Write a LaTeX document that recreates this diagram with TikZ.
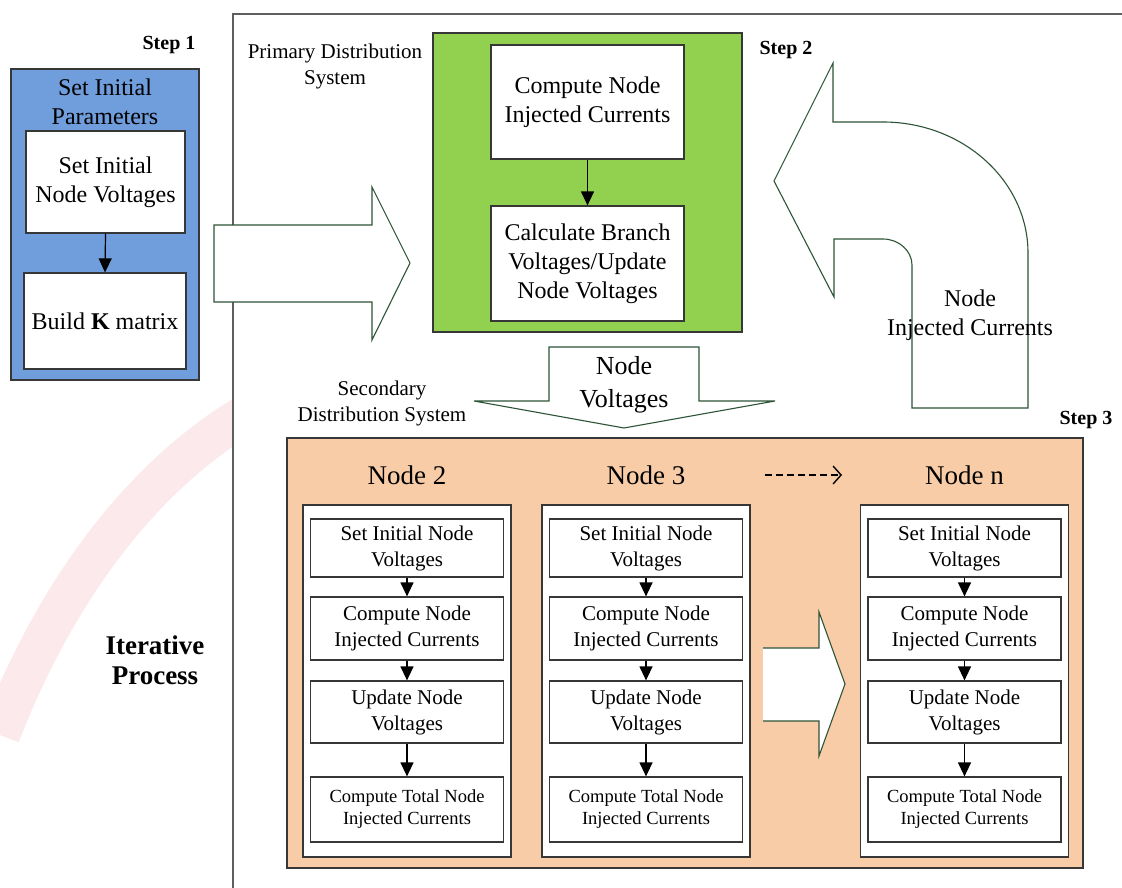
\documentclass[tikz,border=0pt]{standalone}
\usepackage{fontspec}
\setmainfont{Liberation Serif}
\usetikzlibrary{arrows.meta}

\definecolor{bluefill}{RGB}{112,157,219}
\definecolor{greenfill}{RGB}{146,208,80}
\definecolor{peach}{RGB}{249,204,168}
\definecolor{arrowline}{RGB}{46,84,56}
\definecolor{framegray}{RGB}{95,95,95}
\definecolor{boxline}{RGB}{55,55,55}
\definecolor{tint}{RGB}{252,233,235}

\tikzset{
  stepbox/.style={draw=boxline, line width=1.2pt, fill=white, inner sep=0pt,
    align=center, font=\fontsize{21}{26}\selectfont},
  bigbox/.style={draw=boxline, line width=1.2pt, fill=white, inner sep=0pt,
    align=center, font=\fontsize{24}{29}\selectfont},
  column/.style={draw=boxline, line width=1.2pt, fill=white, inner sep=0pt,
    minimum width=208pt, minimum height=352pt},
  header/.style={font=\fontsize{27}{32}\selectfont},
  steplabel/.style={font=\fontsize{20}{24}\selectfont\bfseries},
  caption/.style={align=center, font=\fontsize{21}{26}\selectfont},
  arr/.style={-{Triangle[width=13pt,length=14pt]}, line width=1.2pt, black},
  blockarrow/.style={draw=arrowline, fill=white, line width=1.1pt, line join=miter},
}

% one secondary-node column: #1 name prefix, #2 centre x, #3 heading
\newcommand\secondarycolumn[3]{%
  \node[header] (#1h) at (#2,475) {#3};
  \node[column] (#1c) at (#2,681) {};
  \node[stepbox, minimum width=193pt, minimum height=58pt] (#1a) at (#2,548)
    {Set Initial Node\\Voltages};
  \node[stepbox, minimum width=193pt, minimum height=63pt] (#1b) at (#2,628.5)
    {Compute Node\\Injected Currents};
  \node[stepbox, minimum width=193pt, minimum height=62pt] (#1d) at (#2,712)
    {Update Node\\Voltages};
  \node[stepbox, minimum width=193pt, minimum height=65pt,
    font=\fontsize{18.5}{22}\selectfont] (#1e) at (#2,809.5)
    {Compute Total Node\\Injected Currents};
  \draw[arr] (#1a.south) -- (#1b.north);
  \draw[arr] (#1b.south) -- (#1d.north);
  \draw[arr] (#1d.south) -- (#1e.north);
}

\begin{document}
\begin{tikzpicture}[x=1pt, y=-1pt]
  \useasboundingbox[fill=white] (0,0) rectangle (1122,888);

  % faint background band
  \begin{scope}
    \clip (0,380) rectangle (233,888);
    \draw[tint, line width=40pt, line cap=butt]
      (250,412) .. controls (150,470) and (60,580) .. (0,735);
  \end{scope}

  % frame of the primary distribution system
  \draw[framegray, line width=1.5pt] (233,888) -- (233,14) -- (1122,14);

  % Step 1
  \node[steplabel] (s1) at (169,45) {Step 1};
  \node[draw=boxline, line width=1.2pt, fill=bluefill, minimum width=188pt,
    minimum height=311pt, inner sep=0pt] (blue) at (105,224.5) {};
  \node[align=center, font=\fontsize{24}{29}\selectfont] (bluetitle) at (105,102)
    {Set Initial\\Parameters};
  \node[bigbox, minimum width=159pt, minimum height=102pt] (init) at (105.5,182)
    {Set Initial\\Node Voltages};
  \node[bigbox, minimum width=162pt, minimum height=96pt] (kmat) at (105,321)
    {Build \textbf{K} matrix};
  \draw[arr] (init.south) -- (kmat.north);

  % arrow into the primary system
  \draw[blockarrow] (214,225) -- (372,225) -- (372,187) -- (410,263)
    -- (372,340) -- (372,302) -- (214,302) -- cycle;

  % Step 2: primary distribution system
  \node[caption] (primcap) at (335,66) {Primary Distribution\\System};
  \node[draw=boxline, line width=1.2pt, fill=greenfill, minimum width=309pt,
    minimum height=299pt, inner sep=0pt] (green) at (587.5,182.5) {};
  \node[bigbox, minimum width=193pt, minimum height=114pt] (pcur) at (587.5,102)
    {Compute Node\\Injected Currents};
  \node[bigbox, minimum width=193pt, minimum height=115pt] (pvol) at (587.5,263.5)
    {Calculate Branch\\Voltages/Update\\Node Voltages};
  \draw[arr] (pcur.south) -- (pvol.north);
  \node[steplabel] (s2) at (786,50) {Step 2};

  % returning arrow: node injected currents
  \draw[blockarrow] (833,122) -- (883,122)
    .. controls (963,122) and (1028,181) .. (1028,253)
    -- (1028,408) -- (912,408) -- (912,265)
    .. controls (912,251) and (899,239) .. (883,239)
    -- (834,239) -- (834,297) -- (774,181) -- (833,63) -- cycle;
  \node[align=center, font=\fontsize{24}{29}\selectfont] (inj) at (970,315)
    {Node\\Injected Currents};

  % arrow down to the secondary system
  \draw[blockarrow] (549,347) -- (699,347) -- (699,401) -- (775,401)
    -- (624,428) -- (474,401) -- (549,401) -- cycle;
  \node[align=center, font=\fontsize{26}{33}\selectfont] (nv) at (624,385)
    {Node\\Voltages};
  \node[caption] (seccap) at (382,403) {Secondary\\Distribution System};

  % Step 3: secondary distribution system
  \node[steplabel] (s3) at (1086,420) {Step 3};
  \node[draw=boxline, line width=1.2pt, fill=peach, minimum width=796pt,
    minimum height=430pt, inner sep=0pt] (orange) at (685,653) {};

  \secondarycolumn{n2}{407}{Node 2}
  \secondarycolumn{n3}{646}{Node 3}
  \secondarycolumn{nn}{964.5}{Node n}

  % continuation between columns
  \coordinate (dashA) at (765,475);
  \coordinate (dashB) at (842,475);
  \draw[line width=1.2pt, dash pattern=on 7pt off 4pt,
    -{Straight Barb[length=8pt,width=18pt,line width=1.4pt]}] (dashA) -- (dashB);

  \fill[white] (763,648) -- (819,648) -- (819,612) -- (845,684)
    -- (819,756) -- (819,721) -- (763,721) -- cycle;
  \draw[arrowline, line width=1.1pt, line join=miter] (763,721) -- (819,721)
    -- (819,756) -- (845,684) -- (819,612) -- (819,648) -- (763,648);

  % label of the loop
  \node[align=center, font=\fontsize{27}{30}\selectfont\bfseries] (iter) at (155,660)
    {Iterative\\Process};
\end{tikzpicture}
\end{document}
